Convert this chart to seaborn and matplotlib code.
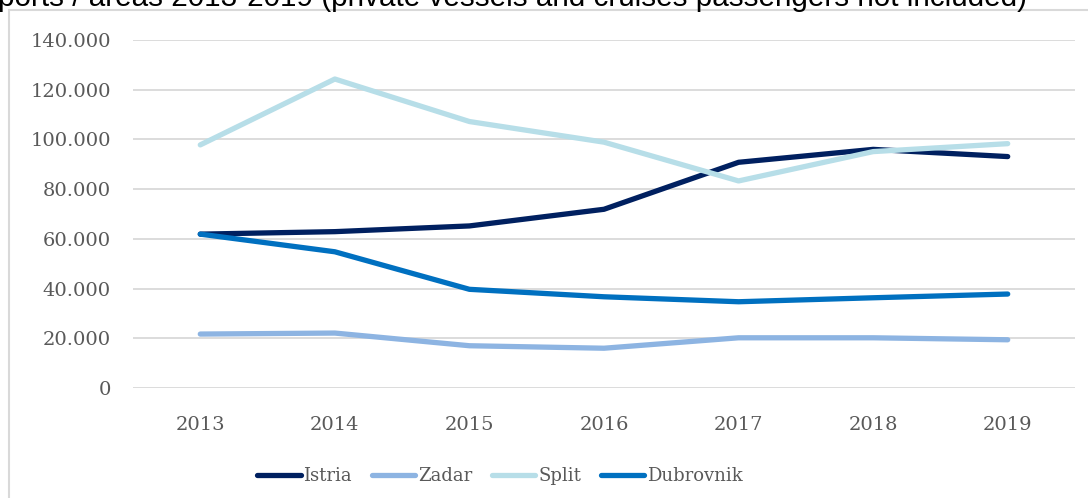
import pandas as pd
import matplotlib.pyplot as plt
from matplotlib.patches import Rectangle
from matplotlib.ticker import FuncFormatter
import seaborn as sns

years = [2013, 2014, 2015, 2016, 2017, 2018, 2019]
istria = [61900, 62900, 65200, 71900, 90800, 96000, 93100]
zadar = [21700, 22100, 17000, 16000, 20200, 20200, 19400]
split = [97800, 124300, 107200, 98900, 83300, 95100, 98300]
dubrovnik = [61900, 54800, 39700, 36700, 34700, 36300, 37800]

ports = ['Istria', 'Zadar', 'Split', 'Dubrovnik']
colors = ['#002060', '#8DB4E2', '#B7DEE8', '#0070C0']
title = 'ports / areas 2013-2019 (private vessels and cruises passengers not included)'

df = pd.DataFrame({'year': years * 4,
                   'port': [p for p in ports for _ in years],
                   'value': istria + zadar + split + dubrovnik})

sns.set_style('white')
W, H = 1088, 498
fig = plt.figure(figsize=(W / 100, H / 100), dpi=100)
ax = fig.add_axes([133 / W, 1 - 388 / H, (1075 - 133) / W, (388 - 40) / H])

sns.lineplot(data=df, x='year', y='value', hue='port', hue_order=ports,
             palette=colors, linewidth=3.8, ax=ax, legend=False)
for line in ax.lines:
    line.set_solid_capstyle('round')
    line.set_solid_joinstyle('round')

ax.set_xlim(2012.5, 2019.5)
ax.set_ylim(0, 140000)
ax.set_yticks(range(0, 140001, 20000))
ax.set_xticks(years)
ax.yaxis.set_major_formatter(FuncFormatter(lambda v, p: f'{int(v):,}'.replace(',', '.')))
ax.grid(axis='y', color='#d9d9d9', linewidth=1.3)
ax.set_axisbelow(True)
for s in ax.spines.values():
    s.set_visible(False)
ax.set_xlabel('')
ax.set_ylabel('')
ax.tick_params(axis='both', length=0, labelsize=14, labelcolor='#595959')
ax.tick_params(axis='y', pad=16)
ax.tick_params(axis='x', pad=20)
for lab in ax.get_xticklabels() + ax.get_yticklabels():
    lab.set_family('DejaVu Serif')

# legend under the plot, like the Excel original
handles = [plt.Line2D([], [], color=c, lw=3.8, solid_capstyle='round') for c in colors]
leg = fig.legend(handles, ports, loc='center', bbox_to_anchor=(500 / W, 1 - 476 / H),
                 ncol=4, frameon=False, handlelength=2.4, handletextpad=0.15,
                 columnspacing=1.1, prop={'family': 'DejaVu Serif', 'size': 13})
for t in leg.get_texts():
    t.set_color('#595959')

fig.patches.append(Rectangle((9 / W, -0.1), 1.2, 1.1 - 10 / H, transform=fig.transFigure,
                             fill=False, edgecolor='#d9d9d9', linewidth=1.5))
# title is cut off at the top edge in the source image
fig.text(-0.002, 1 - 6 / H, title, ha='left', va='baseline',
         family='Liberation Sans', fontsize=21.3, color='black')

fig.savefig('out.png', dpi=100)
